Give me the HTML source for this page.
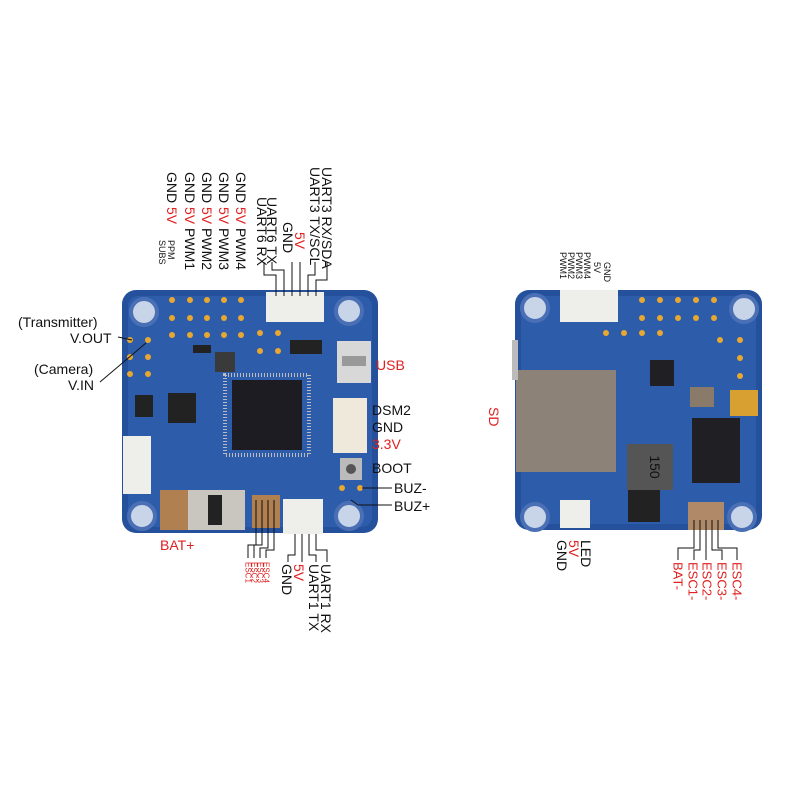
<!DOCTYPE html>
<html><head><meta charset="utf-8"><style>
body{margin:0;background:#fff;width:800px;height:800px;overflow:hidden;font-family:"Liberation Sans",sans-serif}
</style></head><body>
<svg width="800" height="800" viewBox="0 0 800 800" xmlns="http://www.w3.org/2000/svg" font-family="Liberation Sans, sans-serif">
<rect width="800" height="800" fill="#fff"/>
<rect x="122" y="290" width="256" height="243" rx="14" fill="#24509c"/>
<rect x="128" y="296" width="244" height="231" rx="10" fill="#2d5cab"/>
<g fill="#c8d4e8" stroke="#4a6fb5" stroke-width="4">
<circle cx="144" cy="312" r="13"/><circle cx="349" cy="311" r="13"/><circle cx="142" cy="516" r="13"/><circle cx="349" cy="516" r="13"/></g>
<g fill="#e8a830"><circle cx="172" cy="300" r="3"/><circle cx="190" cy="300" r="3"/><circle cx="207" cy="300" r="3"/><circle cx="224" cy="300" r="3"/><circle cx="241" cy="300" r="3"/>
<circle cx="172" cy="318" r="3"/><circle cx="190" cy="318" r="3"/><circle cx="207" cy="318" r="3"/><circle cx="224" cy="318" r="3"/><circle cx="241" cy="318" r="3"/>
<circle cx="172" cy="335" r="3"/><circle cx="190" cy="335" r="3"/><circle cx="207" cy="335" r="3"/><circle cx="224" cy="335" r="3"/><circle cx="241" cy="335" r="3"/>
<circle cx="260" cy="333" r="3"/><circle cx="278" cy="333" r="3"/><circle cx="260" cy="351" r="3"/><circle cx="278" cy="351" r="3"/>
<circle cx="130" cy="340" r="3"/><circle cx="148" cy="340" r="3"/><circle cx="130" cy="357" r="3"/><circle cx="148" cy="357" r="3"/><circle cx="130" cy="374" r="3"/><circle cx="148" cy="374" r="3"/>
<circle cx="342" cy="488" r="3"/><circle cx="360" cy="488" r="3"/></g>
<rect x="266" y="292" width="58" height="30" fill="#eeeeea"/>
<rect x="337" y="341" width="34" height="42" fill="#d8d8d8"/><rect x="342" y="356" width="24" height="10" fill="#999"/>
<rect x="333" y="398" width="34" height="55" fill="#efe9dc"/>
<rect x="340" y="458" width="22" height="22" fill="#bbb"/><circle cx="351" cy="469" r="5" fill="#555"/>
<rect x="123" y="436" width="28" height="58" fill="#eeeeea"/>
<rect x="232" y="380" width="70" height="70" fill="#1c1c22"/>
<rect x="225" y="375" width="84" height="80" fill="none" stroke="#bbb" stroke-width="4" stroke-dasharray="1,2"/>
<rect x="168" y="393" width="28" height="30" fill="#222"/>
<rect x="135" y="395" width="18" height="22" fill="#222"/>
<rect x="160" y="490" width="85" height="40" fill="#c9c6c0"/>
<rect x="160" y="490" width="28" height="40" fill="#b08050"/>
<rect x="208" y="495" width="14" height="30" fill="#222"/>
<rect x="252" y="495" width="28" height="33" fill="#b08050"/>
<rect x="283" y="499" width="40" height="35" fill="#eeeeea"/>
<rect x="193" y="345" width="18" height="8" fill="#222"/><rect x="290" y="340" width="32" height="14" fill="#222"/>
<rect x="215" y="352" width="20" height="20" fill="#3a3a3a"/>
<rect x="515" y="290" width="247" height="240" rx="14" fill="#24509c"/>
<rect x="521" y="296" width="235" height="228" rx="10" fill="#2d5cab"/>
<g fill="#c8d4e8" stroke="#4a6fb5" stroke-width="4">
<circle cx="535" cy="308" r="13"/><circle cx="744" cy="309" r="13"/><circle cx="535" cy="517" r="13"/><circle cx="742" cy="517" r="13"/></g>
<rect x="560" y="290" width="58" height="32" fill="#eeeeea"/>
<rect x="516" y="370" width="100" height="102" fill="#8d8278"/>
<rect x="512" y="340" width="6" height="40" fill="#bbb"/>
<rect x="627" y="444" width="46" height="46" fill="#555"/>
<text x="650" y="467" font-size="14" fill="#111" transform="rotate(90 650 467)" text-anchor="middle">150</text>
<rect x="692" y="418" width="48" height="65" fill="#1f1f24"/>
<rect x="730" y="390" width="28" height="26" fill="#d8a030"/>
<rect x="690" y="387" width="24" height="20" fill="#8a7a6a"/>
<rect x="650" y="360" width="24" height="26" fill="#1f1f24"/>
<rect x="628" y="490" width="32" height="32" fill="#222"/>
<rect x="688" y="502" width="36" height="28" fill="#b08a68"/>
<rect x="560" y="500" width="30" height="28" fill="#eeeeea"/>
<g fill="#e8a830"><circle cx="642" cy="300" r="3"/><circle cx="660" cy="300" r="3"/><circle cx="678" cy="300" r="3"/><circle cx="696" cy="300" r="3"/><circle cx="714" cy="300" r="3"/>
<circle cx="642" cy="318" r="3"/><circle cx="660" cy="318" r="3"/><circle cx="678" cy="318" r="3"/><circle cx="696" cy="318" r="3"/><circle cx="714" cy="318" r="3"/>
<circle cx="606" cy="333" r="3"/><circle cx="624" cy="333" r="3"/><circle cx="642" cy="333" r="3"/><circle cx="660" cy="333" r="3"/><circle cx="720" cy="340" r="3"/><circle cx="740" cy="340" r="3"/><circle cx="740" cy="358" r="3"/><circle cx="740" cy="376" r="3"/></g>
<g font-size="14" fill="#111">
<text x="18" y="327">(Transmitter)</text><text x="70" y="343">V.OUT</text>
<text x="34" y="374">(Camera)</text><text x="68" y="390">V.IN</text>
<text x="372" y="415">DSM2</text><text x="372" y="432">GND</text>
<text x="372" y="473">BOOT</text><text x="394" y="493">BUZ-</text><text x="394" y="511">BUZ+</text>
</g>
<g font-size="14" fill="#e02020"><text x="376" y="370">USB</text><text x="372" y="449">3.3V</text><text x="160" y="550">BAT+</text></g>
<g stroke="#111" stroke-width="1" fill="none">
<line x1="118" y1="337" x2="132" y2="340"/><line x1="100" y1="382" x2="146" y2="343"/>
<line x1="362" y1="488" x2="392" y2="488"/><line x1="351" y1="500" x2="358" y2="505" /><line x1="358" y1="505" x2="392" y2="505"/>
<polyline points="276,296 276,275 264,275 264,262"/><polyline points="284,296 284,270 272,270 272,262"/>
<polyline points="292,296 292,262"/><polyline points="300,296 300,262"/>
<polyline points="308,296 308,275 315,275 315,262"/><polyline points="316,296 316,280 327,280 327,262"/>
<polyline points="256,500 256,545 248,545 248,558"/><polyline points="262,500 262,545 254,545 254,558"/><polyline points="268,500 268,548 260,548 260,558"/><polyline points="274,500 274,550 266,550 266,558"/>
<polyline points="295,534 295,555 288,555 288,562"/><polyline points="302,534 302,562"/><polyline points="309,534 309,555 316,555 316,562"/><polyline points="316,534 316,550 327,550 327,562"/>
<polyline points="694,520 694,548 678,548 678,560"/><polyline points="700,520 700,550 694,550 694,560"/><polyline points="706,520 706,560"/><polyline points="712,520 712,550 722,550 722,560"/><polyline points="718,520 718,548 737,548 737,560"/>
</g>
<g font-size="14" fill="#111" style="writing-mode:vertical-rl">
<text x="172" y="172">GND <tspan fill="#e02020">5V</tspan></text>
<text x="190" y="172">GND <tspan fill="#e02020">5V</tspan> PWM1</text>
<text x="207" y="172">GND <tspan fill="#e02020">5V</tspan> PWM2</text>
<text x="224" y="172">GND <tspan fill="#e02020">5V</tspan> PWM3</text>
<text x="241" y="172">GND <tspan fill="#e02020">5V</tspan> PWM4</text>
<text x="262" y="197">UART6 RX</text><text x="272" y="197">UART6 TX</text>
<text x="288" y="222">GND</text><text x="300" y="232" fill="#e02020">5V</text>
<text x="315" y="167">UART3 TX/SCL</text><text x="327" y="167">UART3 RX/SDA</text>
<text x="287" y="564">GND</text><text x="299" y="564" fill="#e02020">5V</text>
<text x="314" y="564">UART1 TX</text><text x="326" y="564">UART1 RX</text>
<text x="494" y="407" fill="#e02020">SD</text>
<text x="562" y="540">GND</text><text x="574" y="540" fill="#e02020">5V</text><text x="586" y="540">LED</text>
</g>
<g font-size="9" fill="#111" style="writing-mode:vertical-rl"><text x="171" y="240">PPM</text><text x="162" y="240">SUBS</text>
<text x="563" y="252">PWM1</text><text x="571" y="252">PWM2</text><text x="579" y="252">PWM3</text><text x="587" y="252">PWM4</text><text x="597" y="262">5V</text><text x="607" y="262">GND</text></g>
<g font-size="8" fill="#e02020" style="writing-mode:vertical-rl"><text x="248" y="562">ESC1</text><text x="254" y="562">ESC2</text><text x="260" y="562">ESC3</text><text x="266" y="562">ESC4</text></g>
<g font-size="13" fill="#e02020" style="writing-mode:vertical-rl"><text x="678" y="562">BAT-</text><text x="693" y="562">ESC1-</text><text x="707" y="562">ESC2-</text><text x="722" y="562">ESC3-</text><text x="737" y="562">ESC4-</text></g>
</svg>
</body></html>
